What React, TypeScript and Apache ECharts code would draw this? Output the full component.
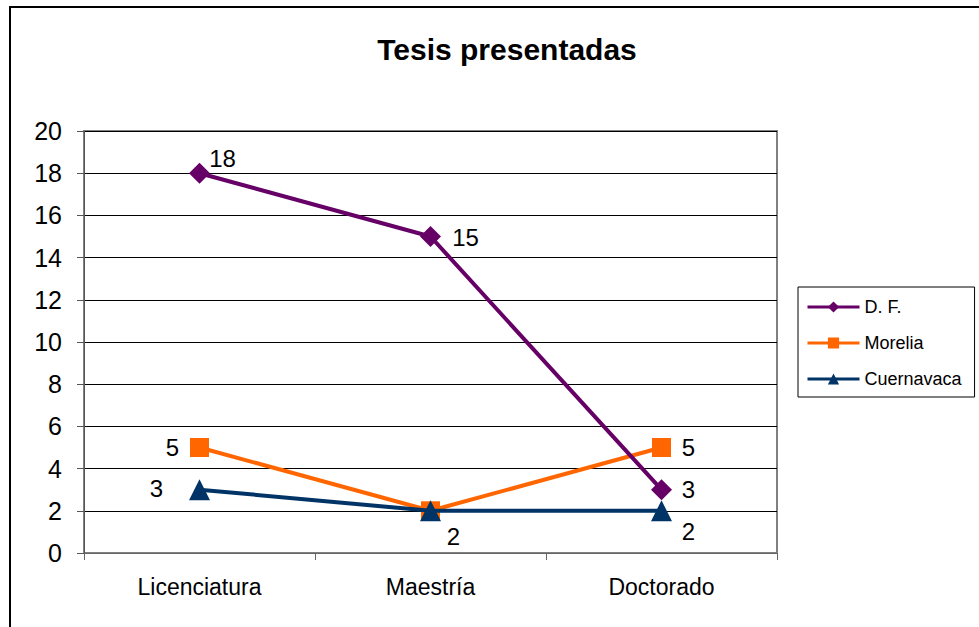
import React, { useEffect, useRef } from "react";
import * as echarts from "echarts";

const categories = ["Licenciatura", "Maestría", "Doctorado"];
const seriesNames = ["D. F.", "Morelia", "Cuernavaca"];
const dfValues = [18, 15, 3];
const moreliaValues = [5, 2, 5];
const cuernavacaValues = [3, 2, 2];
const yTicks = { min: 0, max: 20, interval: 2 };

const FONT = "'Liberation Sans', Arial, sans-serif";

export default function App() {
  const ref = useRef<HTMLDivElement>(null);
  useEffect(() => {
    document.body.style.margin = "0";
    const chart = echarts.init(ref.current!, null, { renderer: "svg" });
    const lbl = (offset: number[], show = true) => ({
      show,
      position: "inside",
      offset,
      color: "#000",
      fontSize: 24,
      fontFamily: FONT,
    });
    const dfOffsets = [[23, -15], [35, 1], [27, 0]];
    const moOffsets = [[-27, 0], [0, 0], [27, 0]];
    const moShow = [true, false, true];
    const cuOffsets = [[-43, -1], [23, 26], [27, 21]];
    chart.setOption({
      animation: false,
      backgroundColor: "#fff",
      textStyle: { fontFamily: FONT },
      title: {
        text: "Tesis presentadas",
        left: 502,
        top: 29,
        textAlign: "center",
        textStyle: { fontSize: 30, fontWeight: "bold", color: "#000", fontFamily: FONT },
      },
      graphic: [
        {
          type: "rect",
          shape: { x: 10, y: 7, width: 1000, height: 700 },
          style: { fill: "none", stroke: "#000", lineWidth: 2 },
          z: 0,
        },
      ],
      legend: {
        orient: "vertical",
        left: 798,
        top: 287,
        padding: [11, 13, 9, 8],
        borderColor: "#000",
        borderWidth: 1,
        itemWidth: 52,
        itemHeight: 14,
        itemGap: 18,
        lineStyle: { width: 3 },
        textStyle: { fontSize: 18, color: "#000", fontFamily: FONT },
        data: seriesNames,
      },
      grid: {
        left: 84,
        top: 131,
        width: 693,
        height: 422,
        show: true,
        borderColor: "#808080",
        borderWidth: 2,
        containLabel: false,
      },
      xAxis: {
        type: "category",
        data: categories,
        boundaryGap: true,
        axisLine: { lineStyle: { color: "#666", width: 1 } },
        axisTick: { show: true, length: 7, lineStyle: { color: "#666" } },
        axisLabel: { color: "#000", fontSize: 23, margin: 22, fontFamily: FONT },
        splitLine: { show: false },
      },
      yAxis: {
        type: "value",
        min: yTicks.min,
        max: yTicks.max,
        interval: yTicks.interval,
        axisLine: { show: true, lineStyle: { color: "#555", width: 1 } },
        axisTick: { show: true, length: 7, lineStyle: { color: "#555" } },
        axisLabel: { color: "#000", fontSize: 25, margin: 22, fontFamily: FONT },
        splitLine: { show: true, lineStyle: { color: "#000", width: 1 } },
      },
      series: [
        {
          name: seriesNames[0],
          type: "line",
          data: dfValues.map((v, i) => ({ value: v, label: lbl(dfOffsets[i]) })),
          symbol: "diamond",
          symbolSize: 21,
          lineStyle: { color: "#660066", width: 4 },
          itemStyle: { color: "#660066" },
          z: 4,
        },
        {
          name: seriesNames[1],
          type: "line",
          data: moreliaValues.map((v, i) => ({ value: v, label: lbl(moOffsets[i], moShow[i]) })),
          symbol: "rect",
          symbolSize: 19,
          lineStyle: { color: "#FF6600", width: 4 },
          itemStyle: { color: "#FF6600" },
          z: 3,
        },
        {
          name: seriesNames[2],
          type: "line",
          data: cuernavacaValues.map((v, i) => ({ value: v, label: lbl(cuOffsets[i]) })),
          symbol: "triangle",
          symbolSize: 21,
          lineStyle: { color: "#003366", width: 4 },
          itemStyle: { color: "#003366" },
          z: 5,
        },
      ],
    });
    return () => chart.dispose();
  }, []);
  return <div ref={ref} style={{ width: 979, height: 627 }} />;
}
